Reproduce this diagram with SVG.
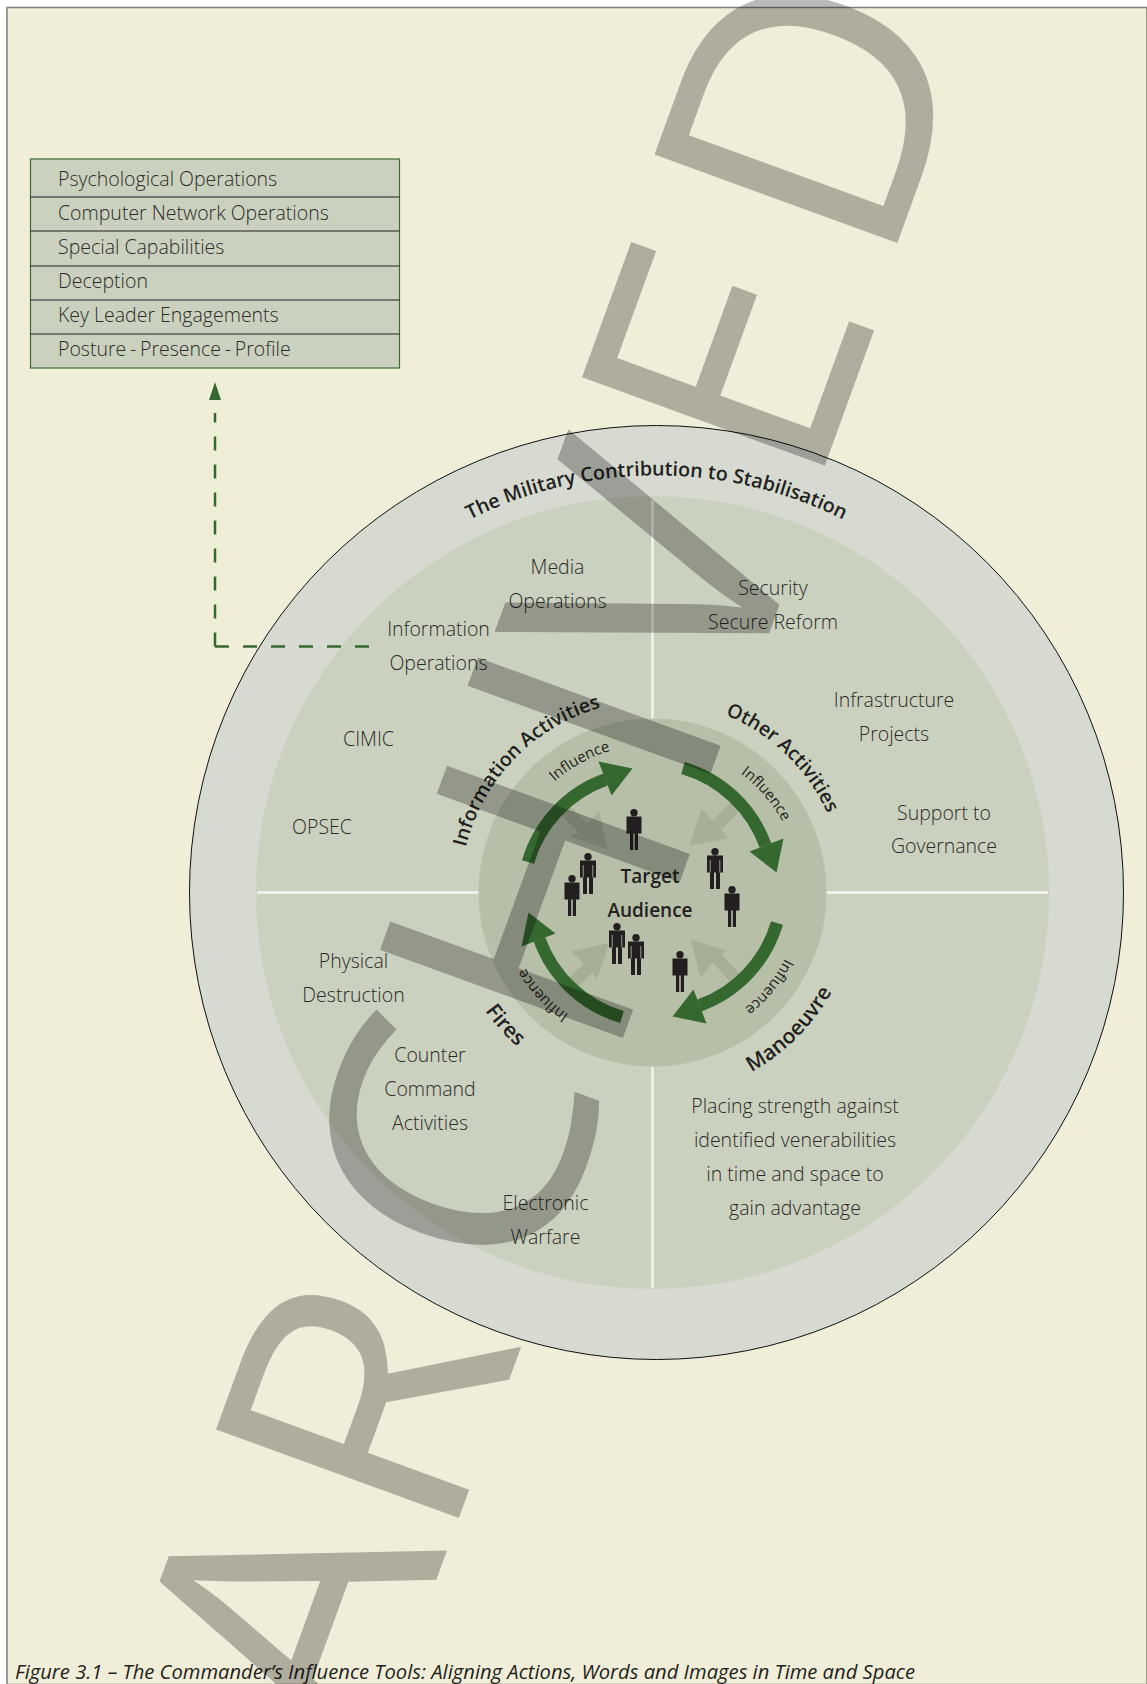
<svg xmlns="http://www.w3.org/2000/svg" width="1147" height="1684" viewBox="0 0 1147 1684">
<style>
text{font-family:"Open Sans","Noto Sans","Liberation Sans",sans-serif}
.l{font-size:19.5px;font-weight:300;fill:#2b2b28;text-anchor:middle}
.r{font-size:19.5px;font-weight:300;fill:#2b2b28}
.b{font-size:19px;font-weight:600;fill:#231f20;text-anchor:middle}
.c{font-size:19.500px;font-weight:600;fill:#231f20;text-anchor:middle}
.i{font-size:15px;font-weight:400;fill:#231f20;text-anchor:middle}
.row{fill:#cbd1bf;stroke:#3a6b35;stroke-width:1.200}
.arc{fill:none;stroke:#35682f;stroke-width:12.500}
.hd{fill:#35682f}
.pale{fill:#a7af98}
.p{fill:#231f20}
</style>
<defs>
<path id="t417" d="M-417 0A417 417 0 0 1 417 0"/>
<path id="t192" d="M-192 0A192 192 0 0 1 192 0"/>
<path id="t148" d="M-148 0A148 148 0 0 1 148 0"/>
<path id="b205" d="M-205 0A205 205 0 0 0 205 0"/>
<g id="arrow">
<path class="arc" d="M30.500 -124.500A125 125 0 0 1 113 -47"/>
<polygon class="hd" points="124,-20 97,-41 131,-54"/>
</g>
<g id="pa"><circle class="p" cx="0" cy="3.700" r="3.700"/><path class="p" d="M-7.500 7.500H7.500V24.500H4V41H0.800V24.500H-0.800V41H-4V24.500H-7.500Z"/></g>
<g id="pb"><circle class="p" cx="0" cy="3.700" r="3.700"/><path class="p" d="M-8 7.500H8V24.500H5V41H1V24.500H-1V41H-5V24.500H-8Z"/><path d="M-4.800 12V24.500M4.800 12V24.500" stroke="#b7bfa8" stroke-width=".8" fill="none"/></g>
</defs>
<rect width="1147" height="1684" fill="#fff"/>
<rect id="page" x="7" y="7.500" width="1140" height="1677" fill="#f0eed8" stroke="#7f7f7a" stroke-width="1.500"/>

<g id="list">
<rect class="row" x="30.500" y="159" width="369" height="209"/>
<path d="M30.500 197H399.500M30.500 231H399.500M30.500 266H399.500M30.500 300H399.500M30.500 334H399.500" stroke="#231f20" stroke-width="1.200"/>
<text class="r" x="58" y="186">Psychological Operations</text>
<text class="r" x="58" y="220">Computer Network Operations</text>
<text class="r" x="58" y="253.500">Special Capabilities</text>
<text class="r" x="58" y="288">Deception</text>
<text class="r" x="58" y="322">Key Leader Engagements</text>
<text class="r" x="58" y="355.500" word-spacing="-1.300">Posture - Presence - Profile</text>
</g>

<g id="circles">
<circle cx="656.500" cy="892.500" r="467" fill="#d6dad0" stroke="#111" stroke-width="1"/>
<circle cx="652.500" cy="892.500" r="396.500" fill="#cbd1bf"/>
<path d="M652.500 500V1288M257 892.500H1048" stroke="#f4f5ec" stroke-width="2.400"/>
<circle cx="652.500" cy="892.500" r="174" fill="#b7bfa8"/>
</g>

<g id="connectors">
<path d="M215 646.500V413" fill="none" stroke="#35682f" stroke-width="2.500" stroke-dasharray="14 14"/>
<path d="M215 646.500H370" fill="none" stroke="#35682f" stroke-width="2.500" stroke-dasharray="14 14"/>
<polygon class="hd" points="215,382 209,400 221,400"/>
</g>

<g id="pale-arrows" transform="translate(652.500 892.500)">
<path class="pale" d="M37 -47L49 -84L60 -72L84 -96L93 -87L69 -63L76 -54Z"/>
<path class="pale" d="M38 47L48 85L60 70L84 96L93 87L69 62L75 58Z"/>
<path class="pale" d="M-45 -43L-53 -81L-65 -69L-88 -92L-97 -83L-74 -60L-83 -56Z"/>
<path class="pale" d="M-43 50L-81 59L-69 71L-92 94L-83 103L-60 80L-56 87Z"/>
</g>

<g id="influence-arrows" transform="translate(652.500 892.500)">
<use href="#arrow"/>
<use href="#arrow" transform="rotate(90)"/>
<use href="#arrow" transform="rotate(180)"/>
<use href="#arrow" transform="rotate(270)"/>
</g>

<g id="people">
<use href="#pa" transform="translate(634 809)"/>
<use href="#pb" transform="translate(588 853)"/>
<use href="#pa" transform="translate(572 875)"/>
<use href="#pb" transform="translate(715 848)"/>
<use href="#pa" transform="translate(732 886)"/>
<use href="#pb" transform="translate(617 923)"/>
<use href="#pb" transform="translate(636 934)"/>
<use href="#pa" transform="translate(680 951)"/>
</g>

<g id="curved-labels" transform="translate(652.500 892.500)">
<text class="c" style="font-size:19.700px" transform="translate(4 0)"><textPath href="#t417" startOffset="50%">The Military Contribution to Stabilisation</textPath></text>
<text class="c" transform="rotate(-46)"><textPath href="#t192" startOffset="50%">Information Activities</textPath></text>
<text class="c" transform="rotate(44)"><textPath href="#t192" startOffset="50%">Other Activities</textPath></text>
<text class="c" style="font-size:21px" transform="rotate(-45)"><textPath href="#b205" startOffset="50%">Manoeuvre</textPath></text>
<text class="c" style="font-size:21px" transform="rotate(48)"><textPath href="#b205" startOffset="50%">Fires</textPath></text>
<text class="i" transform="rotate(-29)"><textPath href="#t148" startOffset="50%">Influence</textPath></text>
<text class="i" transform="rotate(49)"><textPath href="#t148" startOffset="50%">Influence</textPath></text>
<text class="i" transform="rotate(129)"><textPath href="#t148" startOffset="50%">Influence</textPath></text>
<text class="i" transform="rotate(227)"><textPath href="#t148" startOffset="50%">Influence</textPath></text>
</g>

<g id="labels">
<text class="l" x="438.500" y="636">Information</text><text class="l" x="438.500" y="669.500">Operations</text>
<text class="l" x="557.500" y="574">Media</text><text class="l" x="557.500" y="608">Operations</text>
<text class="l" x="773" y="595">Security</text><text class="l" x="773" y="628.500">Secure Reform</text>
<text class="l" x="894" y="707">Infrastructure</text><text class="l" x="894" y="741">Projects</text>
<text class="l" x="944" y="819.500">Support to</text><text class="l" x="944" y="853">Governance</text>
<text class="l" x="368.500" y="746">CIMIC</text>
<text class="l" x="322" y="833.500">OPSEC</text>
<text class="l" x="353.500" y="968">Physical</text><text class="l" x="353.500" y="1002">Destruction</text>
<text class="l" x="430" y="1062">Counter</text><text class="l" x="430" y="1096">Command</text><text class="l" x="430" y="1130">Activities</text>
<text class="l" x="545.500" y="1209.500">Electronic</text><text class="l" x="545.500" y="1243.500">Warfare</text>
<text class="l" x="795" y="1113">Placing strength against</text>
<text class="l" x="795" y="1147">identified venerabilities</text>
<text class="l" x="795" y="1181">in time and space to</text>
<text class="l" x="795" y="1215">gain advantage</text>
<text class="b" x="650" y="883">Target</text><text class="b" x="650" y="917">Audience</text>
<text x="15" y="1679" font-size="20.200" font-style="italic" font-weight="400" fill="#231f20">Figure 3.1 – The Commander’s Influence Tools: Aligning Actions, Words and Images in Time and Space</text>
</g>

<text id="watermark" transform="translate(384 1706) rotate(-70)" font-size="362" fill="#000" fill-opacity=".27" x="-61 167 435 674 952 1047 1281 1515" y="6 6 2 -4 -12 -5 -10 -18">ARCHIVED</text>
</svg>
